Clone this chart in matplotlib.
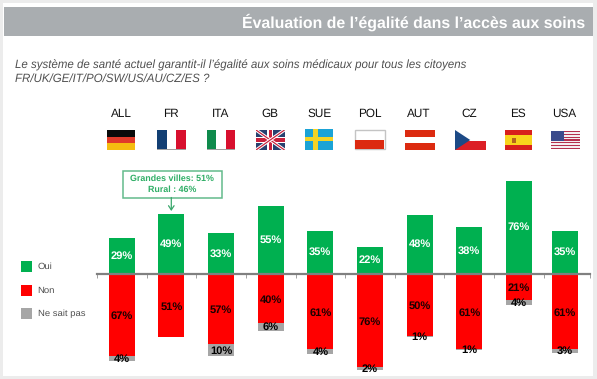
"""Oui / Non / Ne sait pas diverging bars per country, with flag row above."""
import matplotlib

matplotlib.use("Agg")
import matplotlib.pyplot as plt
from matplotlib.patches import Polygon, Rectangle

plt.rcParams["font.family"] = ["Liberation Sans", "DejaVu Sans"]
plt.rcParams["text.hinting"] = "no_hinting"

countries = ["ALL", "FR", "ITA", "GB", "SUE", "POL", "AUT", "CZ", "ES", "USA"]
oui = [29, 49, 33, 55, 35, 22, 48, 38, 76, 35]
non = [67, 51, 57, 40, 61, 76, 50, 61, 21, 61]
nsp = [4, 0, 10, 6, 4, 2, 1, 1, 4, 3]
legend_labels = ["Oui", "Non", "Ne sait pas"]

TITLE = "Évaluation de l’égalité dans l’accès aux soins"
QUESTION = [
    "Le système de santé actuel garantit-il l’égalité aux soins médicaux pour tous les citoyens",
    "FR/UK/GE/IT/PO/SW/US/AU/CZ/ES ?",
]
CALLOUT = ["Grandes villes: 51%", "Rural : 46%"]

W, H = 597, 379
GREEN = "#00b050"
RED = "#ff0000"
GREY = "#a6a6a6"
TEXT_GREY = "#505050"

# the last slot of the original chart is a bit narrower
slots = [0, 1, 2, 3, 4, 5, 6, 7, 8, 8.93]
tick_slots = [-0.5, 0.5, 1.5, 2.5, 3.5, 4.5, 5.5, 6.5, 7.5, 8.5, 9.43]
label_x = [121, 171, 220.5, 270, 320, 369.5, 419, 469, 518, 564]
flag_boxes = [
    (107, 135), (157, 185.5), (207, 235), (256, 284.5), (305, 333),
    (354.5, 384.5), (405, 435), (455, 485.5), (504.5, 532), (551, 580),
]


def rect(ax, x0, y0, x1, y1, color, **kw):
    ax.add_patch(Rectangle((x0, y0), x1 - x0, y1 - y0, facecolor=color, edgecolor="none", **kw))


def draw_flag(ax, code, x0, x1, y0=130, y1=150):
    w, h = x1 - x0, y1 - y0
    if code == "ALL":
        for i, c in enumerate(["#0a0a0a", "#e03a2a", "#f5bd10"]):
            rect(ax, x0, y0 + i * h / 3, x1, y0 + (i + 1) * h / 3, c)
    elif code in ("FR", "ITA"):
        cols = ["#123f73", "white", "#d8102e"] if code == "FR" else ["#0f8a4c", "white", "#d8102e"]
        for i, c in enumerate(cols):
            rect(ax, x0 + i * w / 3, y0, x0 + (i + 1) * w / 3, y1 - 1.2, c)
        rect(ax, x0, y1 - 1.2, x1, y1, "#a0a0a0")
    elif code == "GB":
        rect(ax, x0, y0, x1, y1, "#27406f")
        clip = Rectangle((x0, y0), w, h, transform=ax.transData)
        for (a, b) in [((x0, y0), (x1, y1)), ((x0, y1), (x1, y0))]:
            for lw, c in [(3.2, "white"), (1.2, "#c8203c")]:
                line, = ax.plot([a[0], b[0]], [a[1], b[1]], color=c, lw=lw * 0.72, solid_capstyle="butt")
                line.set_clip_path(clip)
        rect(ax, x0, (y0 + y1) / 2 - 3, x1, (y0 + y1) / 2 + 3, "white")
        rect(ax, (x0 + x1) / 2 - 3, y0, (x0 + x1) / 2 + 3, y1, "white")
        rect(ax, x0, (y0 + y1) / 2 - 1.6, x1, (y0 + y1) / 2 + 1.6, "#c8203c")
        rect(ax, (x0 + x1) / 2 - 1.6, y0, (x0 + x1) / 2 + 1.6, y1, "#c8203c")
    elif code == "SUE":
        y0 -= 1
        h = y1 - y0
        rect(ax, x0, y0, x1, y1, "#1ba3d6")
        rect(ax, x0, y0 + h * 0.4, x1, y0 + h * 0.58, "#f4d324")
        rect(ax, x0 + w * 0.3, y0, x0 + w * 0.46, y1, "#f4d324")
    elif code == "POL":
        y1 -= 1
        h = y1 - y0
        ax.add_patch(Rectangle((x0, y0), w, h, facecolor="white", edgecolor="#c4c4c4", lw=1))
        rect(ax, x0 + 0.5, (y0 + y1) / 2 + 0.5, x1 - 0.5, y1 - 0.5, "#dc2a10")
    elif code == "AUT":
        rect(ax, x0, y0, x1, y0 + h * 0.33, "#dc2a10")
        rect(ax, x0, y0 + h * 0.67, x1, y1, "#dc2a10")
    elif code == "CZ":
        rect(ax, x0, (y0 + y1) / 2 + 0.5, x1, y1, "#dc1f26")
        ax.add_patch(Polygon([(x0, y0), (x0 + w * 0.5, (y0 + y1) / 2), (x0, y1)], facecolor="#1c4a86", edgecolor="none"))
    elif code == "ES":
        rect(ax, x0, y0, x1, y1, "#d8201c")
        rect(ax, x0, y0 + h * 0.27, x1, y0 + h * 0.73, "#f8d41c")
        rect(ax, x0 + w * 0.26, y0 + h * 0.38, x0 + w * 0.42, y0 + h * 0.66, "#b5651d")
    elif code == "USA":
        y0, y1 = 131, 149
        h = y1 - y0
        rect(ax, x0, y0, x1, y1, "#f4eef0")
        for i in range(0, 13, 2):
            rect(ax, x0, y0 + i * h / 13, x1, y0 + (i + 1) * h / 13, "#b5304e")
        rect(ax, x0, y0, x0 + w * 0.45, y0 + h * 0.54, "#3c4c8c")


fig = plt.figure(figsize=(W / 100, H / 100), dpi=100, facecolor="#ececec")

# page furniture lives on a pixel-coordinate layer
page = fig.add_axes([0, 0, 1, 1])
page.set_xlim(0, W)
page.set_ylim(H, 0)
page.axis("off")
rect(page, 3, 3, 593, 376, "white")
rect(page, 4, 7, 593, 36, "#a9adb0")
page.text(585, 22.7, TITLE, color="white", fontsize=11.4, fontweight="bold", ha="right", va="center")
for text, y in zip(QUESTION, [65, 78.3]):
    page.text(15, y, text, color=TEXT_GREY, fontsize=8.3, fontstyle="italic", ha="left", va="center")

for name, lx, box in zip(countries, label_x, flag_boxes):
    page.text(lx, 114, name, color="#111111", fontsize=8.5, ha="center", va="center")
    draw_flag(page, name, *box)

for label, color, y in zip(legend_labels, [GREEN, RED, GREY], [261, 285, 308]):
    rect(page, 21, y, 32, y + 11, color)
    page.text(37.7, y + 6, label, color=TEXT_GREY, fontsize=6.8, ha="left", va="center")

# chart: x in slots, y in percent
PX_PER_PCT = 1.23
AXIS_Y = 274
TOP, BOTTOM = 160, 376
LEFT, RIGHT = 97, 590
ax = fig.add_axes([LEFT / W, 1 - BOTTOM / H, (RIGHT - LEFT) / W, (BOTTOM - TOP) / H])
ax.patch.set_alpha(0)
ax.set_xlim((LEFT - 121.7) / 49.65, (RIGHT - 121.7) / 49.65)
ax.set_ylim(-(BOTTOM - AXIS_Y) / PX_PER_PCT, (AXIS_Y - TOP) / PX_PER_PCT)
BAR_W = 26 / 49.65
neg_non = [-v for v in non]
neg_nsp = [-v for v in nsp]
ax.bar(slots, oui, BAR_W, color=GREEN)
ax.bar(slots, neg_non, BAR_W, color=RED)
ax.bar(slots, neg_nsp, BAR_W, bottom=neg_non, color=GREY)

for x, o, n, s in zip(slots, oui, non, nsp):
    ax.text(x, o / 2, f"{o}%", color="white", fontsize=8, fontweight="bold", ha="center", va="center")
    ax.text(x, -n / 2 - 1, f"{n}%", color="#1a0000", fontsize=8, fontweight="bold", ha="center", va="center")
    if s:
        ax.text(x, -n - s / 2 - 0.5, f"{s}%", color="black", fontsize=8, fontweight="bold", ha="center", va="center", clip_on=False)

for side in ("top", "left", "right"):
    ax.spines[side].set_visible(False)
ax.spines["bottom"].set_position(("data", 0))
ax.spines["bottom"].set_color("#808080")
ax.spines["bottom"].set_linewidth(1.6)
ax.set_xticks(tick_slots)
ax.set_xticklabels([])
ax.set_yticks([])
ax.tick_params(axis="x", length=3, width=0.7, color="#a0a0a0", direction="out")

# callout above FR
CALL_GREEN = "#2fae66"
page.set_zorder(0)
ax.set_zorder(1)
page.add_patch(Rectangle((123, 171), 98.5, 26.5, facecolor="white", edgecolor="#63bb8b", lw=1.1))
for text, y in zip(CALLOUT, [178.3, 189.3]):
    page.text(172.3, y, text, color=CALL_GREEN, fontsize=6.4, fontweight="bold", ha="center", va="center")
page.annotate("", xy=(171.3, 211), xytext=(171.3, 197.5),
              arrowprops=dict(arrowstyle="->,head_width=0.2,head_length=0.3", color="#3aa76c", lw=0.9, shrinkA=0, shrinkB=0))

fig.savefig("out.png", dpi=100, facecolor=fig.get_facecolor())
plt.close(fig)
